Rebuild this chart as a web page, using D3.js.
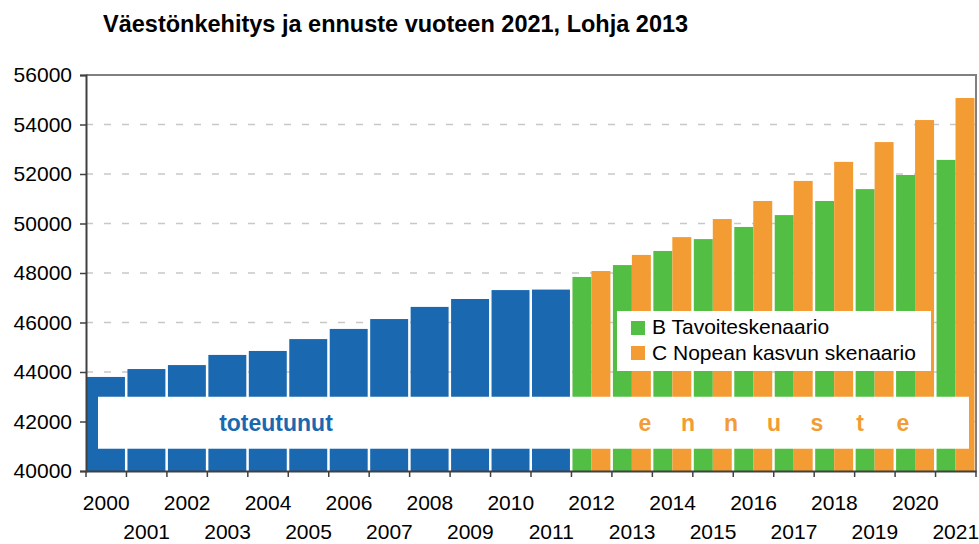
<!DOCTYPE html>
<html><head><meta charset="utf-8">
<script src="https://cdn.jsdelivr.net/npm/d3@7"></script>
<style>
html,body{margin:0;padding:0;background:#fff;}
svg{display:block;font-family:"Liberation Sans",Arial,sans-serif;}
</style></head>
<body>
<svg id="chart" width="979" height="544"></svg>
<script>
const title = "Väestönkehitys ja ennuste vuoteen 2021, Lohja 2013";
const years = ["2000","2001","2002","2003","2004","2005","2006","2007","2008","2009","2010","2011",
               "2012","2013","2014","2015","2016","2017","2018","2019","2020","2021"];
const actualYears = ["2000","2001","2002","2003","2004","2005","2006","2007","2008","2009","2010","2011"];
const actualValues = [43800,44120,44280,44690,44850,45330,45740,46140,46630,46950,47310,47330];
const forecastYears = ["2012","2013","2014","2015","2016","2017","2018","2019","2020","2021"];
const scenarioB = [47840,48320,48890,49370,49860,50340,50910,51390,51960,52570];
const scenarioC = [48080,48730,49450,50180,50910,51720,52490,53290,54180,55070];
const seriesNames = ["B Tavoiteskenaario","C Nopean kasvun skenaario"];
const yTicks = [40000,42000,44000,46000,48000,50000,52000,54000,56000];
const labelActual = "toteutunut";
const labelForecast = ["e","n","n","u","s","t","e"];

const BLUE="#1a69b0", GREEN="#52bf44", ORANGE="#f39c33";
const svg = d3.select("#chart");
const L=86, R=976, T=75, B=471;
const x = d3.scaleBand().domain(years).range([L,R]).padding(0);
const y = d3.scaleLinear().domain([40000,56000]).range([B,T]);

// title
svg.append("text").attr("x",103).attr("y",32).attr("font-weight","bold")
  .attr("font-size",23.5).attr("fill","#000").text(title);

// gridlines
svg.append("g").selectAll("line").data(yTicks.filter(d=>d>40000 && d<56000)).join("line")
  .attr("x1",L).attr("x2",R).attr("y1",d=>y(d)).attr("y2",d=>y(d))
  .attr("stroke","#c8c8c8").attr("stroke-width",1.5).attr("stroke-dasharray","7,11");

// bars
const bw = x.bandwidth();
svg.append("g").selectAll("rect").data(actualYears.map((k,i)=>({k,v:actualValues[i]}))).join("rect")
  .attr("x",d=>x(d.k)+1).attr("width",bw-2.5).attr("y",d=>y(d.v)).attr("height",d=>B-y(d.v)).attr("fill",BLUE);
const half = (bw-2.5)/2;
svg.append("g").selectAll("rect").data(forecastYears.map((k,i)=>({k,v:scenarioB[i]}))).join("rect")
  .attr("x",d=>x(d.k)+1).attr("width",half).attr("y",d=>y(d.v)).attr("height",d=>B-y(d.v)).attr("fill",GREEN);
svg.append("g").selectAll("rect").data(forecastYears.map((k,i)=>({k,v:scenarioC[i]}))).join("rect")
  .attr("x",d=>x(d.k)+1+half).attr("width",half).attr("y",d=>y(d.v)).attr("height",d=>B-y(d.v)).attr("fill",ORANGE);

// white band with labels
svg.append("rect").attr("x",98).attr("width",969-98).attr("y",y(43000)).attr("height",y(40900)-y(43000)).attr("fill","#fff");
svg.append("text").attr("x",276).attr("y",431).attr("text-anchor","middle").attr("font-weight","bold")
  .attr("font-size",23).attr("fill",BLUE).text(labelActual);
svg.append("g").selectAll("text").data(labelForecast).join("text")
  .attr("x",(d,i)=>645+i*43).attr("y",431).attr("text-anchor","middle").attr("font-weight","bold")
  .attr("font-size",23).attr("fill",ORANGE).text(d=>d);

// frame: top and right
svg.append("line").attr("x1",L).attr("x2",R+1).attr("y1",T).attr("y2",T).attr("stroke","#808080").attr("stroke-width",2);
svg.append("line").attr("x1",R).attr("x2",R).attr("y1",T).attr("y2",B).attr("stroke","#808080").attr("stroke-width",2);

// y axis
const yAxis = svg.append("g").attr("transform",`translate(${L},0)`)
  .call(d3.axisLeft(y).tickValues(yTicks).tickFormat(d3.format("d")).tickSize(6).tickPadding(8));
yAxis.select(".domain").attr("stroke","#404040").attr("stroke-width",2);
yAxis.selectAll(".tick line").attr("stroke","#404040").attr("stroke-width",1.5);
yAxis.selectAll("text").attr("font-size",21).attr("fill","#000").attr("font-family","Liberation Sans, Arial, sans-serif");

// x axis
const xAxis = svg.append("g").attr("transform",`translate(0,${B})`)
  .call(d3.axisBottom(x).tickSize(0).tickPadding(0));
xAxis.select(".domain").attr("stroke","#404040").attr("stroke-width",2);
xAxis.selectAll(".tick text").attr("font-size",21).attr("fill","#000")
  .attr("font-family","Liberation Sans, Arial, sans-serif")
  .attr("dy",null).attr("y",(d,i)=> i%2===0 ? 39 : 68);
// category boundary ticks
svg.append("g").selectAll("line").data(years.concat(["end"])).join("line")
  .attr("x1",(d,i)=>i<years.length? x(d): R).attr("x2",(d,i)=>i<years.length? x(d): R)
  .attr("y1",B).attr("y2",B+6).attr("stroke","#404040").attr("stroke-width",1.5);

// legend
const lg = svg.append("g");
lg.append("rect").attr("x",617).attr("y",311).attr("width",314).attr("height",60).attr("fill","#fff");
[GREEN,ORANGE].forEach((c,i)=>{
  lg.append("rect").attr("x",631).attr("y",321+i*25).attr("width",14).attr("height",14).attr("fill",c);
  lg.append("text").attr("x",652).attr("y",334+i*26).attr("font-size",21).attr("fill","#000").text(seriesNames[i]);
});
</script>
</body></html>
